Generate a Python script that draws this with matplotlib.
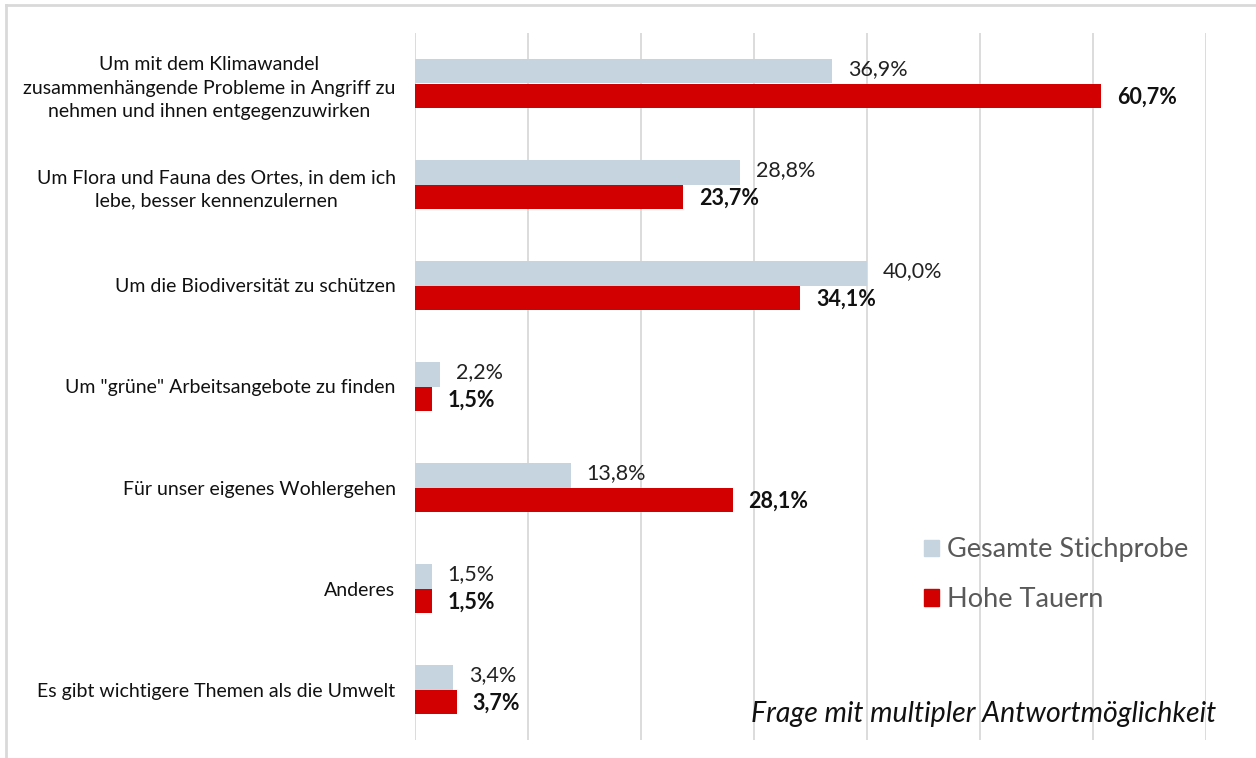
import numpy as np
import matplotlib.pyplot as plt
from matplotlib.lines import Line2D
from matplotlib.patches import Patch

categories = [
    'Um mit dem Klimawandel\nzusammenhängende Probleme in Angriff zu\nnehmen und ihnen entgegenzuwirken',
    'Um Flora und Fauna des Ortes, in dem ich\nlebe, besser kennenzulernen',
    'Um die Biodiversität zu schützen',
    'Um "grüne" Arbeitsangebote zu finden',
    'Für unser eigenes Wohlergehen',
    'Anderes',
    'Es gibt wichtigere Themen als die Umwelt',
]
gesamt = [36.9, 28.8, 40.0, 2.2, 13.8, 1.5, 3.4]
hohe_tauern = [60.7, 23.7, 34.1, 1.5, 28.1, 1.5, 3.7]
series_names = ['Gesamte Stichprobe', 'Hohe Tauern']
xticks = [0, 10, 20, 30, 40, 50, 60, 70]

c_gray = '#c5d4de'
c_red = '#d20000'
plt.rcParams['font.family'] = ['Lato', 'DejaVu Sans']

fig = plt.figure(figsize=(12.56, 7.58), dpi=100)
W, H = 1256, 758
ax = fig.add_axes([415 / W, 1 - 740 / H, (1206 - 415) / W, (740 - 33) / H])

y = np.arange(len(categories))
h = 0.238
ax.barh(y - h / 2, gesamt, height=h, color=c_gray, zorder=2)
ax.barh(y + h / 2, hohe_tauern, height=h, color=c_red, zorder=2)

# data labels
for yi, v in zip(y, gesamt):
    ax.text(v + 1.4, yi - h / 2 - 0.02, f'{v:.1f}%'.replace('.', ','),
            va='center', ha='left', fontsize=15.5, color='#222222')
for yi, v in zip(y, hohe_tauern):
    ax.text(v + 1.4, yi + h / 2 + 0.02, f'{v:.1f}%'.replace('.', ','),
            va='center', ha='left', fontsize=15.5, fontweight='bold', color='#111111')

ax.set_xlim(0, 70)
ax.set_ylim(6.5, -0.5)
ax.set_xticks(xticks)
ax.xaxis.grid(True, color='#d9d9d9', lw=1.3, zorder=0)
ax.tick_params(axis='x', length=0, labelbottom=False)
ax.tick_params(axis='y', length=0, pad=14)
ax.set_yticks(y)
ax.set_yticklabels(categories, fontsize=14, color='#111111')
for lab in ax.get_yticklabels():
    lab.set_multialignment('center')
    lab.set_linespacing(1.45)
for s in ax.spines.values():
    s.set_visible(False)

handles = [Patch(color=c_gray), Patch(color=c_red)]
leg = ax.legend(handles, series_names, loc='upper left', bbox_to_anchor=(0.63, 0.302),
                frameon=False, fontsize=19.5, handlelength=0.55, handleheight=0.55,
                handletextpad=0.3, labelspacing=0.92, borderaxespad=0)
for t in leg.get_texts():
    t.set_color('#595959')

fig.text(1216 / W, 1 - 714 / H, 'Frage mit multipler Antwortmöglichkeit',
         ha='right', va='center', fontsize=20.5, style='italic', color='#111111')

# outer frame (top and left only)
fig.add_artist(Line2D([6 / W, 1], [1 - 5 / H, 1 - 5 / H], color='#d9d9d9', lw=2))
fig.add_artist(Line2D([6 / W, 6 / W], [0, 1 - 5 / H], color='#d9d9d9', lw=2))

fig.savefig('out.png', dpi=100)
